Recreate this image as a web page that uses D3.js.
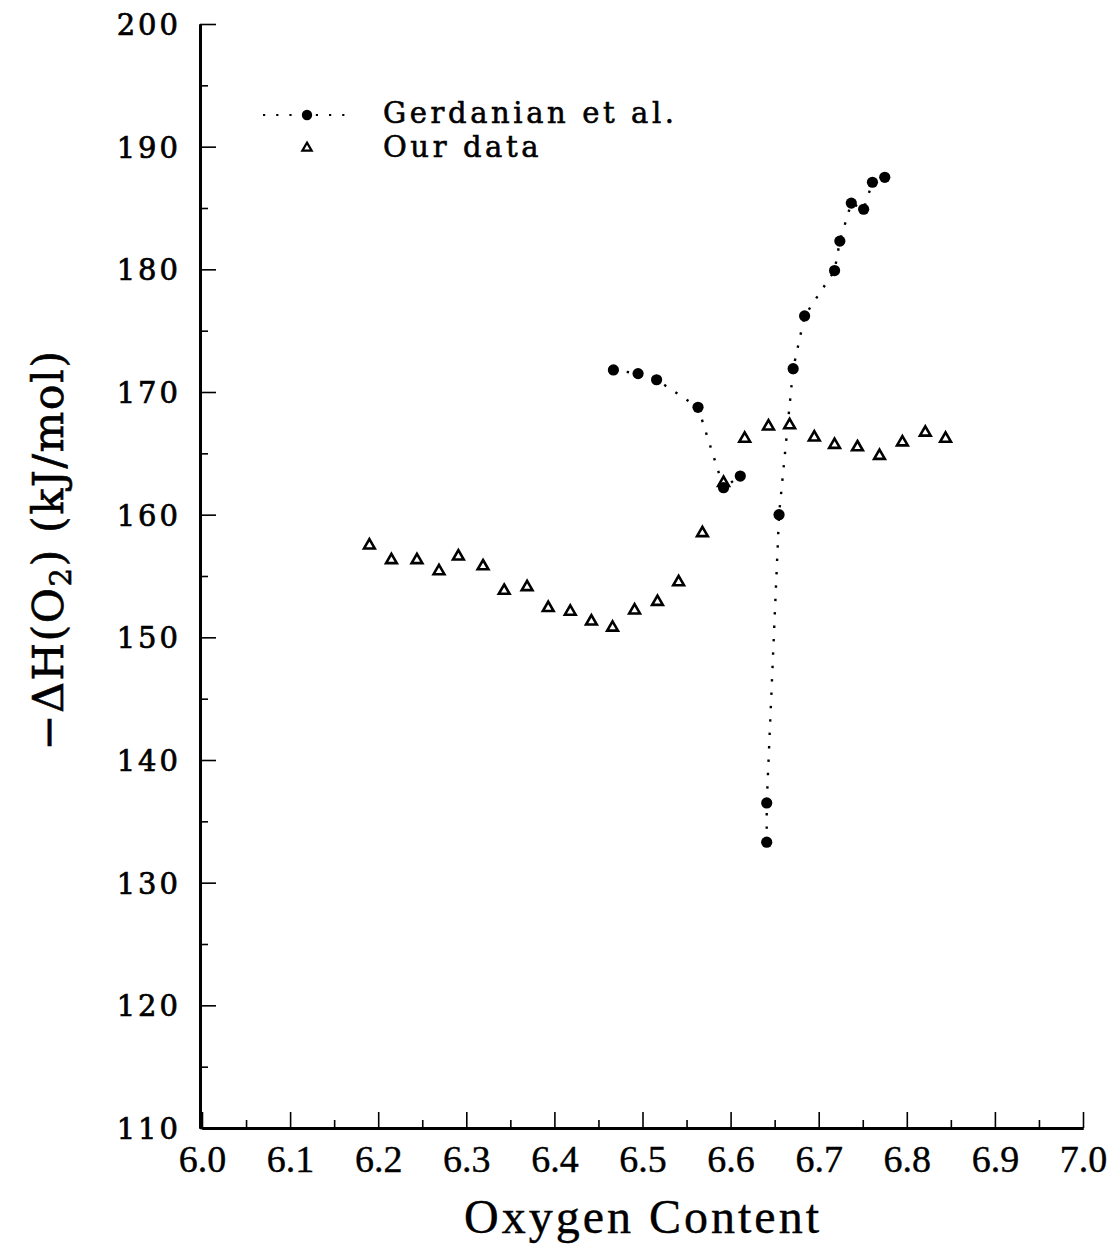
<!DOCTYPE html>
<html>
<head>
<meta charset="utf-8">
<script src="https://cdn.jsdelivr.net/npm/d3@7"></script>
<style>
  html, body { margin: 0; padding: 0; background: #fff; }
  svg { display: block; }
  .ytick text { font-family: "DejaVu Serif", serif; font-size: 29px; letter-spacing: 3px;
                stroke: #000; stroke-width: 0.7px; }
  .xtick text { font-family: "Liberation Serif", serif; font-size: 38px; stroke: #000; stroke-width: 0.4px; }
</style>
</head>
<body>
<svg id="chart" width="1120" height="1244"></svg>
<script>
// Gerdanian et al. — low-oxygen branch
const gerdLowX = [6.467, 6.495, 6.516, 6.563, 6.592, 6.611];
const gerdLowY = [171.8, 171.5, 171.0, 168.75, 162.2, 163.15];
// Gerdanian et al. — high-oxygen branch
const gerdHighX = [6.641, 6.641, 6.655, 6.671, 6.684, 6.718, 6.724, 6.737, 6.751, 6.761, 6.775];
const gerdHighY = [133.3, 136.5, 160.0, 171.9, 176.2, 179.9, 182.3, 185.4, 184.9, 187.1, 187.5];
// Our data
const ourX = [6.190, 6.215, 6.244, 6.269, 6.291, 6.319, 6.343, 6.369, 6.393, 6.418, 6.442, 6.466,
              6.491, 6.517, 6.541, 6.568, 6.592, 6.616, 6.643, 6.667, 6.695, 6.718, 6.744, 6.769,
              6.795, 6.821, 6.844];
const ourY = [157.5, 156.3, 156.3, 155.4, 156.6, 155.8, 153.8, 154.1, 152.4, 152.1, 151.3, 150.8,
              152.2, 152.9, 154.5, 158.5, 162.6, 166.2, 167.2, 167.3, 166.3, 165.7, 165.5, 164.8,
              165.9, 166.7, 166.2];
// Axis ticks
const xMajorTicks = [6.0, 6.1, 6.2, 6.3, 6.4, 6.5, 6.6, 6.7, 6.8, 6.9, 7.0];
const xMinorTicks = [6.05, 6.15, 6.25, 6.35, 6.45, 6.55, 6.65, 6.75, 6.85, 6.95];
const yMajorTicks = [110, 120, 130, 140, 150, 160, 170, 180, 190, 200];
const yMinorTicks = [115, 125, 135, 145, 155, 165, 175, 185, 195];
const legendLabels = ["Gerdanian et al.", "Our data"];

const svg = d3.select("#chart");
const x = d3.scaleLinear().domain([6.0, 7.0]).range([202, 1083]);
const y = d3.scaleLinear().domain([110, 200]).range([1128, 24]);

// ---- axes ----
const xMinor = svg.append("g").attr("transform", `translate(0,${y(110)})`)
  .call(d3.axisBottom(x).tickValues(xMinorTicks).tickSize(-8).tickSizeOuter(0).tickFormat(""));
const xMajor = svg.append("g").attr("class", "xtick").attr("transform", `translate(0,${y(110)})`)
  .call(d3.axisBottom(x).tickValues(xMajorTicks).tickSize(-16).tickSizeOuter(0).tickPadding(17)
    .tickFormat(d3.format(".1f")));
const yMinor = svg.append("g").attr("transform", `translate(${x(6.0) - 2},0)`)
  .call(d3.axisLeft(y).tickValues(yMinorTicks).tickSize(-8).tickSizeOuter(0).tickFormat(""));
const yMajor = svg.append("g").attr("class", "ytick").attr("transform", `translate(${x(6.0) - 2},0)`)
  .call(d3.axisLeft(y).tickValues(yMajorTicks).tickSize(-16).tickSizeOuter(0).tickPadding(19)
    .tickFormat(d3.format("d")));

[xMinor, xMajor, yMinor, yMajor].forEach(g => {
  g.select(".domain").attr("stroke", "#000").attr("stroke-width", 3);
  g.selectAll(".tick line").attr("stroke", "#000").attr("stroke-width", 1.6);
  g.selectAll(".tick text").attr("fill", "#000");
});
xMajor.selectAll(".tick text").attr("font-family", null).attr("font-size", null);
yMajor.selectAll(".tick text").attr("font-family", null).attr("font-size", null).attr("dy", "0.36em");

// ---- axis titles ----
svg.append("text")
  .attr("x", 643).attr("y", 1233)
  .attr("text-anchor", "middle")
  .attr("font-family", "Liberation Serif, serif")
  .attr("font-size", 48).attr("letter-spacing", 3)
  .attr("stroke", "#000").attr("stroke-width", 0.4)
  .text("Oxygen Content");

const yTitle = svg.append("text")
  .attr("transform", "translate(63,550) rotate(-90)")
  .attr("text-anchor", "middle")
  .attr("font-family", "DejaVu Serif, serif")
  .attr("font-size", 43).attr("letter-spacing", 1.5)
  .attr("stroke", "#000").attr("stroke-width", 0.6);
yTitle.append("tspan").text("\u2212\u0394H(O");
yTitle.append("tspan").attr("font-size", 29).attr("dy", 8).text("2");
yTitle.append("tspan").attr("dy", -8).text(") (kJ/mol)");

// ---- series ----
const line = d3.line().x(d => x(d[0])).y(d => y(d[1]));
const gerdLow = gerdLowX.map((v, i) => [v, gerdLowY[i]]);
const gerdHigh = gerdHighX.map((v, i) => [v, gerdHighY[i]]);
const ours = ourX.map((v, i) => [v, ourY[i]]);

[gerdLow, gerdHigh].forEach(seg => {
  svg.append("path").datum(seg)
    .attr("d", line)
    .attr("fill", "none").attr("stroke", "#000")
    .attr("stroke-width", 2.4).attr("stroke-dasharray", "2.4 11");
});

const triangle = d3.symbol().type(d3.symbolTriangle).size(50);
svg.append("g").selectAll("path").data(ours).join("path")
  .attr("d", triangle)
  .attr("transform", d => `translate(${x(d[0])},${y(d[1])})`)
  .attr("fill", "#fff").attr("stroke", "#000").attr("stroke-width", 2.6);

svg.append("g").selectAll("circle").data(gerdLow.concat(gerdHigh)).join("circle")
  .attr("cx", d => x(d[0])).attr("cy", d => y(d[1]))
  .attr("r", 5.6).attr("fill", "#000");

// ---- legend ----
const legend = svg.append("g").attr("font-family", "DejaVu Serif, serif").attr("font-size", 29);
legend.append("line")
  .attr("x1", 263).attr("x2", 346).attr("y1", 115).attr("y2", 115)
  .attr("stroke", "#000").attr("stroke-width", 2.2).attr("stroke-dasharray", "2.2 11");
legend.append("circle").attr("cx", 307).attr("cy", 115).attr("r", 5.2).attr("fill", "#000");
legend.append("path").attr("d", d3.symbol().type(d3.symbolTriangle).size(38))
  .attr("transform", "translate(307,148)")
  .attr("fill", "#fff").attr("stroke", "#000").attr("stroke-width", 2.2);
legend.selectAll("text").data(legendLabels).join("text")
  .attr("x", 383).attr("y", (d, i) => 123 + i * 34)
  .attr("letter-spacing", 3.6)
  .attr("stroke", "#000").attr("stroke-width", 0.6)
  .text(d => d);
</script>
</body>
</html>
